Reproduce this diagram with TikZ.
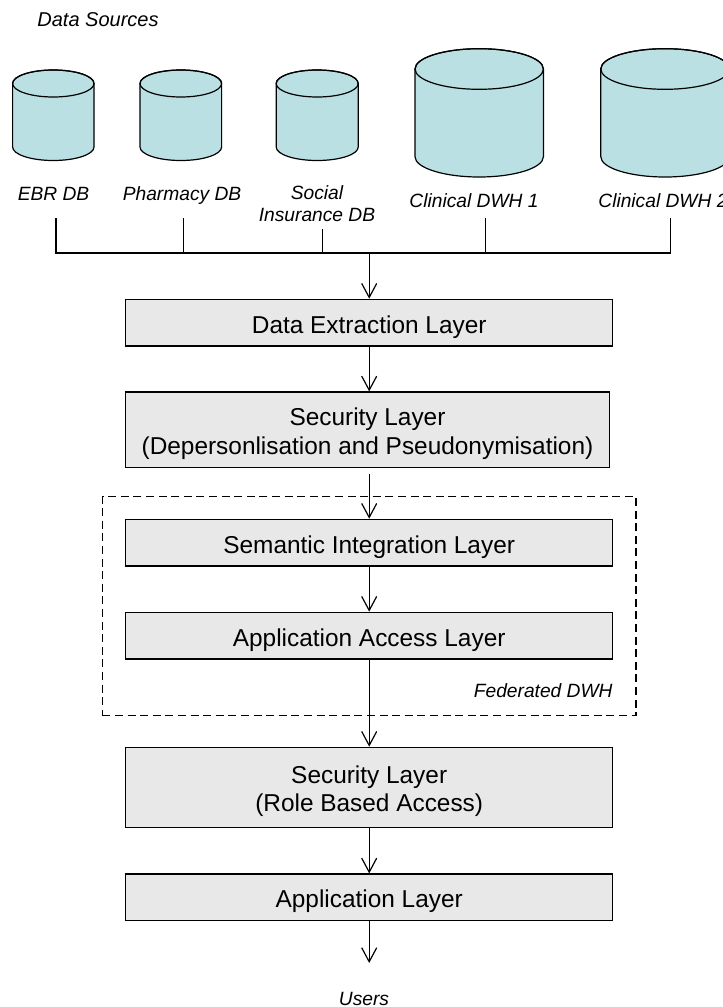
\documentclass[tikz,border=0pt]{standalone}
\usepackage{fontspec}
\setmainfont{Liberation Sans}
\usetikzlibrary{arrows.meta}

\definecolor{dbfill}{HTML}{BBE0E3}
\definecolor{layerfill}{HTML}{E8E8E8}

\newcommand\layerfont{\fontsize{12.2}{14.2}\selectfont}
\newcommand\srcfont{\fontsize{9.6}{11}\selectfont\itshape}

% database cylinder: centre x, x radius, top y, bottom y, y radius
\newcommand\dbcylinder[5]{%
  \filldraw[cyl] (#1-#2,#3) -- (#1-#2,#4)
    arc[start angle=180,end angle=0,x radius=#2,y radius=#5]
    -- (#1+#2,#3)
    arc[start angle=0,end angle=-180,x radius=#2,y radius=#5] -- cycle;
  \draw[cyl,fill=none] (#1,#3) ellipse[x radius=#2,y radius=#5];
}

% two-line layer caption
\newcommand\twoline[2]{\raisebox{-2.3pt}[\height][\depth]{%
  \begin{tabular}{@{}c@{}}#1\\#2\end{tabular}}}

\begin{document}
\begin{tikzpicture}[x=0.5pt,y=-0.5pt,
  cyl/.style={draw=black,fill=dbfill,line width=0.6pt},
  layer/.style={draw=black,fill=layerfill,line width=0.6pt,inner sep=0pt,
    font=\layerfont,minimum width=243.5pt,minimum height=23.35pt},
  oneline/.style={text height=10.6pt,text depth=0pt},
  fedbox/.style={draw=black,line width=0.6pt,dash pattern=on 4pt off 2.3pt,
    inner sep=0pt},
  wire/.style={draw=black,line width=0.6pt},
  arr/.style={wire,-{Straight Barb[length=7pt,width=7.5pt]}},
  src/.style={font=\srcfont,inner sep=0pt}]

\useasboundingbox (0,0) rectangle (723,1007);

% data sources
\node[src,anchor=base west,font=\fontsize{10}{12}\selectfont\itshape] (dstitle) at (37,26) {Data Sources};

\dbcylinder{53.3}{40.7}{83.5}{147}{13.5}
\dbcylinder{180.8}{40.8}{83.5}{147}{13.5}
\dbcylinder{317.2}{41}{83.5}{147}{13.5}
\dbcylinder{479.2}{64.2}{69}{156.7}{20.3}
\dbcylinder{665}{64.2}{69}{156.7}{20.3}

\node[src,anchor=base] (ebrlbl) at (53.5,200) {EBR DB};
\node[src,anchor=base] (phalbl) at (182,200) {Pharmacy DB};
\node[src,align=center] (soclbl) at (317,204) {Social\\Insurance DB};
\node[src,anchor=base] (dwh1lbl) at (474,207) {Clinical DWH 1};
\node[src,anchor=base west] (dwh2lbl) at (598,207) {Clinical DWH 2};

% collecting bus
\coordinate (ebrend) at (56,218);
\coordinate (phaend) at (183.3,218);
\coordinate (socend) at (322.7,229.3);
\coordinate (dwh1end) at (485.3,218);
\coordinate (dwh2end) at (670.7,218);
\coordinate (bus) at (369,253);

\draw[wire] (ebrend) |- (dwh2end |- bus) -- (dwh2end);
\draw[wire] (phaend) -- (phaend |- bus);
\draw[wire] (socend) -- (socend |- bus);
\draw[wire] (dwh1end) -- (dwh1end |- bus);

% federated data warehouse frame
\node[fedbox,minimum width=266.85pt,minimum height=109.5pt] (fed) at (369.15,606.2) {};
\node[src,anchor=base east] (fedlbl) at (613,697.5) {Federated DWH};

% layers
\node[layer,oneline] (del) at (369.2,322.65) {Data Extraction Layer};
\node[layer,minimum width=241.8pt,minimum height=37.85pt] (sec1) at (367.5,429.85)
  {\twoline{Security Layer}{(Depersonlisation and Pseudonymisation)}};
\node[layer,oneline] (sem) at (369.2,542.65) {Semantic Integration Layer};
\node[layer,oneline] (aal) at (369.2,635.65) {Application Access Layer};
\node[layer,minimum height=40.2pt] (sec2) at (369.2,787.5)
  {\twoline{Security Layer}{(Role Based Access)}};
\node[layer,oneline] (app) at (369.2,897.35) {Application Layer};

% flow
\draw[arr] (del.north |- bus) -- (del.north);
\draw[arr] (del.south) -- (del.south |- sec1.north);
\draw[arr,shorten <=2.65pt] (sem.north |- sec1.south) -- (sem.north);
\draw[arr] (sem.south) -- (aal.north);
\draw[arr] (aal.south) -- (sec2.north);
\draw[arr] (sec2.south) -- (app.north);
\coordinate (usersin) at (369.2,963);
\draw[arr] (app.south) -- (usersin);

\node[src,anchor=base] (users) at (364,1005.5) {Users};
\end{tikzpicture}
\end{document}
